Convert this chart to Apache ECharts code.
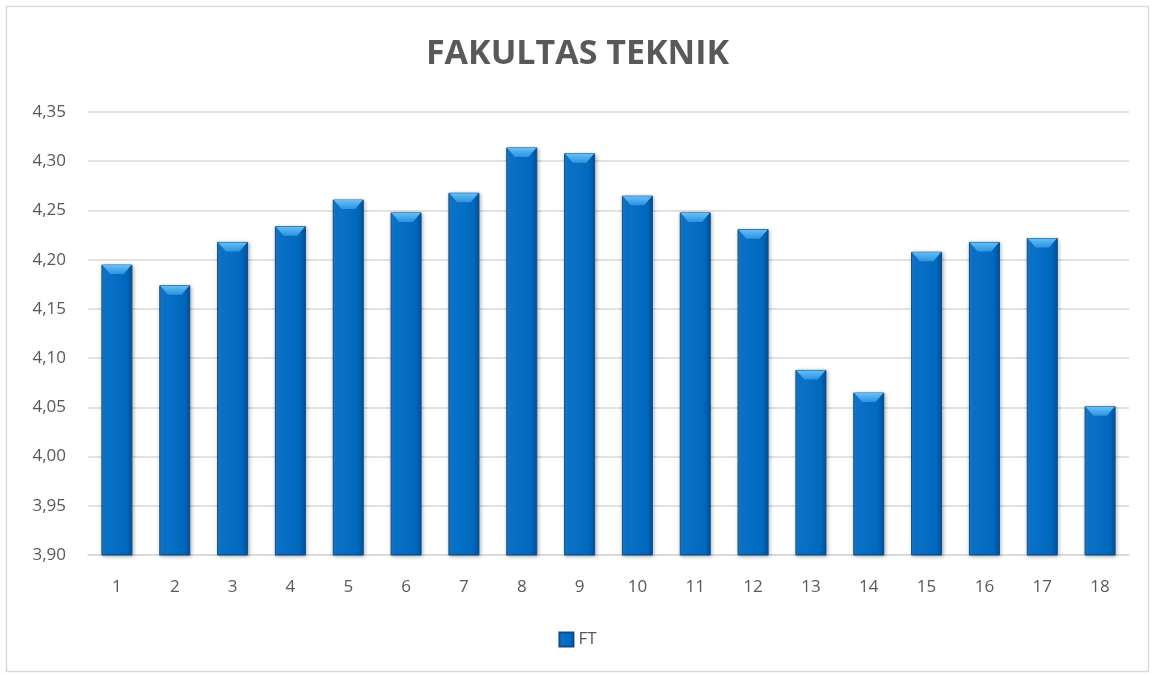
<!DOCTYPE html>
<html>
<head>
<meta charset="utf-8">
<script src="https://cdn.jsdelivr.net/npm/echarts@6/dist/echarts.min.js"></script>
<style>
  html, body { margin: 0; padding: 0; background: #fff; }
  #barChart { width: 1155px; height: 675px; }
</style>
</head>
<body>
<div id="barChart"></div>
<script>
  // chart data
  var categories = ['1','2','3','4','5','6','7','8','9','10','11','12','13','14','15','16','17','18'];
  var ftValues = [4.195, 4.174, 4.218, 4.234, 4.261, 4.248, 4.268, 4.314, 4.308, 4.265, 4.248, 4.231, 4.088, 4.065, 4.208, 4.218, 4.222, 4.051];
  var yMin = 3.90, yMax = 4.35, yStep = 0.05;

  var textColor = '#595959';
  var chart = echarts.init(document.getElementById('barChart'));

  var barFill = new echarts.graphic.LinearGradient(0, 0, 1, 0, [
    { offset: 0, color: '#1f7fd0' },
    { offset: 0.15, color: '#0a72c8' },
    { offset: 0.8, color: '#0068bd' },
    { offset: 1, color: '#0053a0' }
  ]);

  chart.setOption({
    animation: false,
    title: {
      text: 'FAKULTAS TEKNIK',
      left: 'center',
      top: 32,
      textStyle: { color: textColor, fontSize: 34, fontWeight: 'bold', fontFamily: 'Open Sans' }
    },
    graphic: [{
      type: 'rect',
      shape: { x: 6.5, y: 6.5, width: 1142, height: 665 },
      style: { fill: 'none', stroke: '#d9d9d9', lineWidth: 1.5 },
      silent: true
    }],
    legend: {
      data: [{ name: 'FT', icon: 'rect' }],
      bottom: 22,
      left: 'center',
      itemWidth: 14,
      itemHeight: 14,
      itemGap: 4,
      textStyle: { color: textColor, fontSize: 17, fontFamily: 'Open Sans' }
    },
    grid: { left: 88, right: 26, top: 112, bottom: 120 },
    xAxis: {
      type: 'category',
      data: categories,
      axisTick: { show: false },
      axisLine: { lineStyle: { color: '#d9d9d9', width: 1.5 } },
      axisLabel: { color: textColor, fontSize: 17, margin: 24, fontFamily: 'Open Sans' }
    },
    yAxis: {
      type: 'value',
      min: yMin,
      max: yMax,
      interval: yStep,
      axisLine: { show: false },
      axisTick: { show: false },
      splitLine: { lineStyle: { color: '#d9d9d9', width: 1.5 } },
      axisLabel: {
        color: textColor, fontSize: 17, margin: 22, fontFamily: 'Open Sans',
        formatter: function (v) { return v.toFixed(2).replace('.', ','); }
      }
    },
    series: [{
      name: 'FT',
      type: 'bar',
      data: ftValues,
      barWidth: 31,
      itemStyle: {
        color: barFill,
        borderColor: '#0b4e8a',
        borderWidth: 1,
        shadowColor: 'rgba(0,0,0,0.3)',
        shadowBlur: 4,
        shadowOffsetX: 1,
        shadowOffsetY: 1
      }
    }, {
      // top bevel highlight
      name: 'FT',
      type: 'pictorialBar',
      data: ftValues,
      symbol: 'path://M0,0 L30,0 L22,8 L8,8 Z',
      symbolSize: [29, 9],
      symbolPosition: 'end',
      symbolOffset: [0, 0.5],
      barGap: '-100%',
      z: 3,
      silent: true,
      itemStyle: {
        color: new echarts.graphic.LinearGradient(0, 0, 0, 1, [
          { offset: 0, color: '#62c0f8' },
          { offset: 1, color: '#2f92de' }
        ])
      }
    }]
  });
</script>
</body>
</html>
